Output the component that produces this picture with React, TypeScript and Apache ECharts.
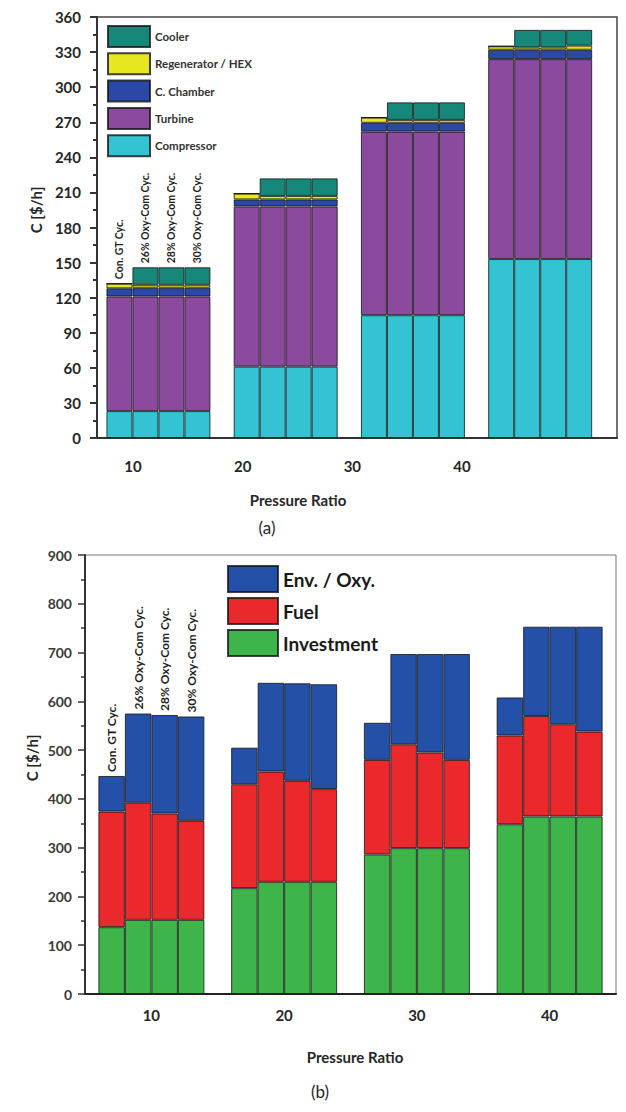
import React, { useEffect, useRef } from "react";
import * as echarts from "echarts";

// Pressure ratios shared by both panels
const PRESSURE = [10, 20, 30, 40];
const CYCLES = ["Con. GT Cyc.", "26% Oxy-Com Cyc.", "28% Oxy-Com Cyc.", "30% Oxy-Com Cyc."];

// Panel (a): component cost rates, $/h — one row per cycle, one column per pressure ratio
const COMPRESSOR = [
  [23, 61, 105, 153],
  [23, 61, 105, 153],
  [23, 61, 105, 153],
  [23, 61, 105, 153],
];
const TURBINE = [
  [98, 137, 157, 171],
  [98, 137, 157, 171],
  [98, 137, 157, 171],
  [98, 137, 157, 171],
];
const CHAMBER = [
  [7, 6, 7.5, 8],
  [7.5, 6, 7.5, 8],
  [7.5, 6, 7.5, 8],
  [7.5, 6, 7.5, 8],
];
const REGENERATOR = [
  [4, 5, 4.5, 3],
  [2.5, 3, 2.5, 2],
  [2.5, 3, 2.5, 2],
  [2.5, 3, 2.5, 3.5],
];
const COOLER = [
  [0, 0, 0, 0],
  [15, 15, 15, 15],
  [15, 15, 15, 15],
  [15, 15, 15, 13.5],
];

// Panel (b): cost breakdown, $/h
const INVESTMENT = [
  [137, 217, 286, 348],
  [152, 230, 299, 364],
  [152, 230, 299, 364],
  [152, 230, 299, 364],
];
const FUEL = [
  [237, 213, 194, 182],
  [240, 226, 213, 206],
  [218, 207, 196, 189],
  [203, 190, 181, 174],
];
const ENV_OXY = [
  [73, 75, 76, 78],
  [183, 182, 185, 183],
  [202, 200, 202, 200],
  [214, 215, 217, 215],
];

const Y_TICKS_A = { min: 0, max: 360, interval: 30 };
const Y_TICKS_B = { min: 0, max: 900, interval: 100 };

const FONT = "Lato, 'Open Sans', sans-serif";
const EDGE = "rgba(20,20,20,0.8)";

const PARTS_A = [
  { name: "Compressor", color: "#33c3d3", rows: COMPRESSOR },
  { name: "Turbine", color: "#8b4a9d", rows: TURBINE },
  { name: "C. Chamber", color: "#2b48a6", rows: CHAMBER },
  { name: "Regenerator / HEX", color: "#e7e620", rows: REGENERATOR },
  { name: "Cooler", color: "#16887a", rows: COOLER },
];
const PARTS_B = [
  { name: "Investment", color: "#3db54b", rows: INVESTMENT },
  { name: "Fuel", color: "#eb282b", rows: FUEL },
  { name: "Env. / Oxy.", color: "#2450a8", rows: ENV_OXY },
];

function cycleLabel(cycle: string, fontSize: number, weight: string | number) {
  return {
    show: true,
    position: "top",
    rotate: 90,
    align: "left",
    verticalAlign: "middle",
    distance: 4,
    formatter: () => cycle,
    fontFamily: FONT,
    fontSize,
    fontWeight: weight,
    color: "#1e1e1e",
  };
}

function buildSeries(
  parts: { name: string; color: string; rows: number[][] }[],
  axisIndex: number,
  barWidth: number,
  prefix: string,
  labelSize: number,
  labelWeight: string | number
) {
  const out: any[] = [];
  parts.forEach((part, pi) => {
    const isTop = pi === parts.length - 1;
    CYCLES.forEach((cycle, ci) => {
      out.push({
        type: "bar",
        name: part.name,
        stack: prefix + ci,
        xAxisIndex: axisIndex,
        yAxisIndex: axisIndex,
        barWidth,
        barGap: "0%",
        itemStyle: { color: part.color, borderColor: EDGE, borderWidth: 1 },
        data: part.rows[ci].map((v, i) =>
          isTop && i === 0 ? { value: v, label: cycleLabel(cycle, labelSize, labelWeight) } : v
        ),
      });
    });
  });
  return out;
}

export default function App() {
  const ref = useRef<HTMLDivElement>(null);

  useEffect(() => {
    if (!ref.current) return;
    const chart = echarts.init(ref.current, null, { renderer: "svg" });

    const tickLabel = (size: number, margin: number) => ({
      fontFamily: FONT,
      fontSize: size,
      fontWeight: "bold",
      color: "#262626",
      margin,
    });
    const yAxisLine = { show: true, lineStyle: { color: "#333", width: 2 } };

    const option: any = {
      animation: false,
      backgroundColor: "#ffffff",
      grid: [
        { left: 97, top: 17, width: 520, height: 421, show: true, borderColor: "#444", borderWidth: 1.5, backgroundColor: "transparent" },
        { left: 94.8, top: 17, width: 509, height: 421 },
        { left: 85, top: 555, width: 531, height: 439, show: true, borderColor: "#777", borderWidth: 1, backgroundColor: "transparent" },
      ],
      xAxis: [
        {
          gridIndex: 0,
          type: "value",
          min: 6.72,
          max: 54.13,
          axisLine: { show: true, lineStyle: { color: "#333", width: 2 } },
          axisTick: { show: false },
          splitLine: { show: false },
          axisLabel: { ...tickLabel(15, 20), customValues: PRESSURE },
        },
        { gridIndex: 1, type: "category", data: PRESSURE.map(String), show: false },
        {
          gridIndex: 2,
          type: "category",
          data: PRESSURE.map(String),
          axisLine: { show: true, lineStyle: { color: "#222", width: 2 } },
          axisTick: { show: false },
          axisLabel: tickLabel(15, 13),
        },
      ],
      yAxis: [
        {
          gridIndex: 0,
          type: "value",
          ...Y_TICKS_A,
          axisLine: yAxisLine,
          axisTick: { show: true, length: 7, lineStyle: { color: "#333", width: 2 } },
          minorTick: { show: true, splitNumber: 2, length: 4, lineStyle: { color: "#333", width: 2 } },
          splitLine: { show: false },
          axisLabel: tickLabel(15, 16),
        },
        { gridIndex: 1, type: "value", ...Y_TICKS_A, show: false, splitLine: { show: false } },
        {
          gridIndex: 2,
          type: "value",
          ...Y_TICKS_B,
          axisLine: yAxisLine,
          axisTick: { show: true, length: 7, lineStyle: { color: "#333", width: 1.5 } },
          minorTick: { show: true, splitNumber: 2, length: 4, lineStyle: { color: "#333", width: 1.5 } },
          splitLine: { show: false },
          axisLabel: { ...tickLabel(14, 13), color: "#3a3a3a" },
        },
      ],
      legend: [
        {
          left: 107,
          top: 25,
          orient: "vertical",
          padding: 0,
          itemWidth: 42,
          itemHeight: 21,
          itemGap: 4.3,
          icon: "rect",
          data: ["Cooler", "Regenerator / HEX", "C. Chamber", "Turbine", "Compressor"],
          textStyle: { fontFamily: FONT, fontSize: 11.5, fontWeight: "bold", color: "#333" },
        },
        {
          left: 227,
          top: 565,
          orient: "vertical",
          padding: 0,
          itemWidth: 50,
          itemHeight: 26,
          itemGap: 4,
          icon: "rect",
          data: ["Env. / Oxy.", "Fuel", "Investment"],
          textStyle: { fontFamily: FONT, fontSize: 19, fontWeight: "bold", color: "#1a1a1a" },
        },
      ],
      graphic: [
        { type: "text", x: 298, y: 500, style: { text: "Pressure Ratio", font: `bold 15px ${FONT}`, fill: "#262626", align: "center", verticalAlign: "middle" } },
        { type: "text", x: 267, y: 527, style: { text: "(a)", font: `17px ${FONT}`, fill: "#262626", align: "center", verticalAlign: "middle" } },
        { type: "text", x: 355, y: 1057, style: { text: "Pressure Ratio", font: `bold 15px ${FONT}`, fill: "#262626", align: "center", verticalAlign: "middle" } },
        { type: "text", x: 320, y: 1091, style: { text: "(b)", font: `17px ${FONT}`, fill: "#262626", align: "center", verticalAlign: "middle" } },
        { type: "text", x: 36, y: 210, rotation: Math.PI / 2, style: { text: "C [$/h]", font: `bold 15px ${FONT}`, fill: "#262626", align: "center", verticalAlign: "middle" } },
        { type: "text", x: 32, y: 758, rotation: Math.PI / 2, style: { text: "C [$/h]", font: `bold 15px ${FONT}`, fill: "#262626", align: "center", verticalAlign: "middle" } },
      ],
      series: [
        ...buildSeries(PARTS_A, 1, 26, "a", 10.5, "bold"),
        ...buildSeries(PARTS_B, 2, 26.5, "b", 12, "bold"),
      ],
    };

    chart.setOption(option);
    return () => chart.dispose();
  }, []);

  return <div ref={ref} style={{ position: "absolute", left: 0, top: 0, width: 626, height: 1112 }} />;
}
